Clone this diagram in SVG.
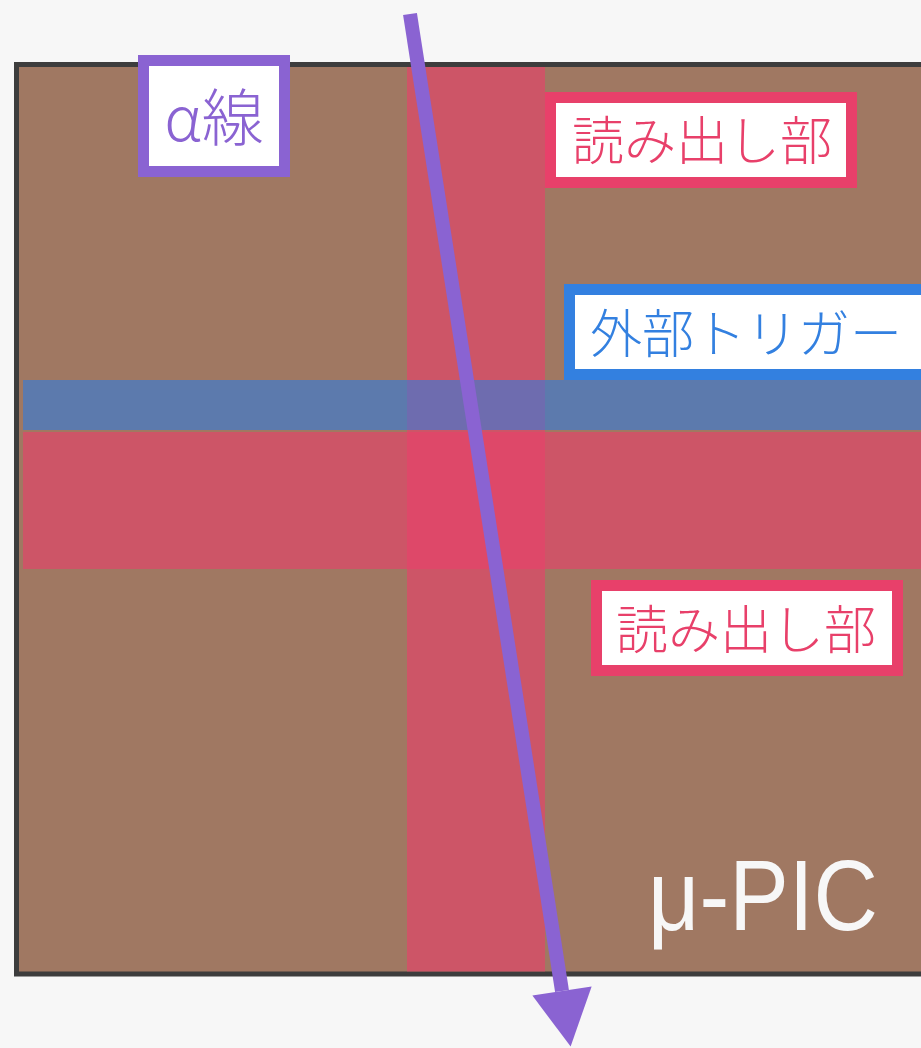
<svg xmlns="http://www.w3.org/2000/svg" width="921" height="1048" viewBox="0 0 921 1048">
<style>
.lbl{fill:#ffffff;stroke-width:11}
.jp{font-family:"Noto Sans CJK JP","Noto Sans",sans-serif;font-weight:300;text-anchor:middle}
.red{stroke:#e8406a}
.redt{fill:#e8406a}
</style>
<defs>
<marker id="ah" markerUnits="userSpaceOnUse" markerWidth="64" markerHeight="60" refX="0" refY="31" orient="auto" viewBox="0 0 60 62">
<path d="M0,0 L58,31 L0,62 Z" fill="#8a63d2"/>
</marker>
</defs>
<rect width="921" height="1048" fill="#f7f7f7"/>
<g id="upic">
<rect x="16.5" y="64.5" width="920" height="909.5" fill="#a07862" stroke="#3d3d3d" stroke-width="5"/>
<text x="878" y="930" font-family="Liberation Sans, Arial, sans-serif" font-size="100" fill="#f7f7f7" text-anchor="end" textLength="230" lengthAdjust="spacingAndGlyphs">μ-PIC</text>
</g>
<g id="bands">
<rect x="407" y="67" width="138" height="904.5" fill="#e8406a" fill-opacity="0.62"/>
<rect x="23" y="432" width="900" height="137" fill="#e8406a" fill-opacity="0.62"/>
<rect x="23" y="380" width="900" height="50" fill="#2f7ce0" fill-opacity="0.6"/>
</g>
<g id="alpha-label">
<rect class="lbl" x="143.5" y="60.5" width="141" height="111" stroke="#8a63d2"/>
<text class="jp" x="214" y="141" font-size="62" fill="#8a63d2">α線</text>
</g>
<g id="readout-top">
<rect class="lbl red" x="550.5" y="97.5" width="301" height="85"/>
<text class="jp redt" x="702" y="160" font-size="52">読み出し部</text>
</g>
<g id="trigger">
<rect class="lbl" x="569.5" y="289.5" width="360" height="85" stroke="#3380e0"/>
<text class="jp" x="746" y="353" font-size="52" fill="#3380e0">外部トリガー</text>
</g>
<g id="readout-bottom">
<rect class="lbl red" x="596.5" y="585.5" width="301" height="85"/>
<text class="jp redt" x="746" y="649" font-size="52">読み出し部</text>
</g>
<g id="connectors">
<line x1="410" y1="14" x2="562" y2="991" stroke="#8a63d2" stroke-width="14" marker-end="url(#ah)"/>
</g>
</svg>
